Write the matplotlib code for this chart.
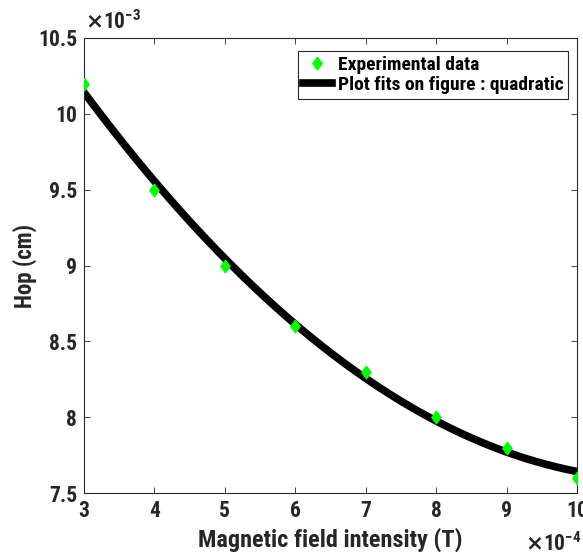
import numpy as np
import matplotlib
matplotlib.use("Agg")
import matplotlib.pyplot as plt
from matplotlib import font_manager
from matplotlib.ticker import FuncFormatter

# Hop vs magnetic field
B_field = [3e-4, 4e-4, 5e-4, 6e-4, 7e-4, 8e-4, 9e-4, 10e-4]        # T
hop = [10.2e-3, 9.5e-3, 9.0e-3, 8.6e-3, 8.3e-3, 8.0e-3, 7.8e-3, 7.6e-3]  # cm

X_SCALE = 1e-4
Y_SCALE = 1e-3

# look for a narrow bold face, fall back to DejaVu Sans
names = {f.name for f in font_manager.fontManager.ttflist}
narrow = None
for cand in ['Liberation Sans Narrow', 'DejaVu Sans Condensed', 'Roboto Condensed',
             'Open Sans Condensed', 'Noto Sans Condensed']:
    if cand in names:
        narrow = cand
        break
fams = [narrow, 'DejaVu Sans'] if narrow else ['DejaVu Sans']
SHRINK = 1.0 if narrow else 0.85

plt.rcParams['font.family'] = fams
plt.rcParams['font.weight'] = 'bold'
plt.rcParams['mathtext.default'] = 'bf'

diamond = [(0, 1), (0.75, 0), (0, -1), (-0.75, 0), (0, 1)]
INK = '#262626'


def main():
    x = np.array(B_field) / X_SCALE
    y = np.array(hop) / Y_SCALE

    # quadratic fit of the experimental data
    coef = np.polyfit(x, y, 2)
    x_fit = np.linspace(x.min(), x.max(), 300)
    y_fit = np.polyval(coef, x_fit)

    fig = plt.figure(figsize=(5.83, 5.54), dpi=100)
    ax = fig.add_axes([84 / 583, 1 - 493 / 554, (577 - 84) / 583, (493 - 38) / 554])

    ax.plot(x, y, linestyle='none', marker=diamond, color='#00ff00', markersize=9,
            label='Experimental data', zorder=3)
    ax.plot(x_fit, y_fit, '-', color='black', linewidth=5.5,
            label='Plot fits on figure : quadratic', zorder=2)

    ax.set_xlim(3, 10)
    ax.set_ylim(7.5, 10.5)
    ax.set_xticks(np.arange(3, 11, 1))
    ax.set_yticks(np.arange(7.5, 10.51, 0.5))
    fmt = FuncFormatter(lambda v, p: "%g" % v)
    ax.xaxis.set_major_formatter(fmt)
    ax.yaxis.set_major_formatter(fmt)

    for s in ax.spines.values():
        s.set_color(INK)
        s.set_linewidth(0.8)
    ax.tick_params(direction='in', top=True, right=True, length=4, width=0.6,
                   color=INK, labelsize=15.5 * SHRINK, pad=5)
    for lab in ax.get_xticklabels() + ax.get_yticklabels():
        lab.set_fontweight('bold')
        lab.set_color(INK)

    ax.set_xlabel('Magnetic field intensity (T)', fontsize=17.5 * SHRINK, fontweight='bold',
                  color=INK, labelpad=4)
    ax.set_ylabel('Hop (cm)', fontsize=16.5 * SHRINK, fontweight='bold', color=INK,
                  labelpad=1)

    ax.text(0.003, 1.008, r'$\times\mathregular{10^{-3}}$', transform=ax.transAxes,
            fontsize=15.5 * SHRINK, color=INK, ha='left', va='bottom')
    ax.text(1.008, -0.086, r'$\times\mathregular{10^{-4}}$', transform=ax.transAxes,
            fontsize=15.5 * SHRINK, color=INK, ha='right', va='top')

    leg = ax.legend(loc='upper right', bbox_to_anchor=(0.99, 0.98), fontsize=14 * SHRINK,
                    frameon=True, fancybox=False, edgecolor=INK, framealpha=1,
                    handlelength=1.5, borderpad=0.25, labelspacing=0.1, handletextpad=0.3,
                    borderaxespad=0.2)
    leg.get_frame().set_linewidth(0.8)
    for t in leg.get_texts():
        t.set_fontweight('bold')

    fig.savefig('out.png', dpi=100)
    plt.close(fig)


if __name__ == "__main__":
    main()
